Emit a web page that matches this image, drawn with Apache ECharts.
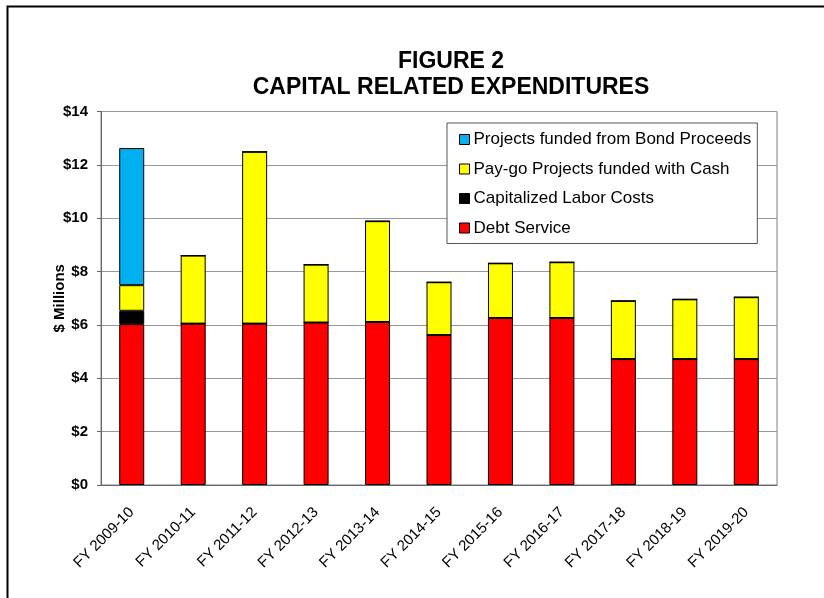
<!DOCTYPE html>
<html>
<head>
<meta charset="utf-8">
<script src="https://cdn.jsdelivr.net/npm/echarts@6/dist/echarts.min.js"></script>
<style>
html,body{margin:0;padding:0;background:#fff;}
#chart{width:824px;height:598px;}
</style>
</head>
<body>
<div id="chart"></div>
<script>
const categories = ['FY 2009-10','FY 2010-11','FY 2011-12','FY 2012-13','FY 2013-14','FY 2014-15','FY 2015-16','FY 2016-17','FY 2017-18','FY 2018-19','FY 2019-20'];
const debtService = [6.03, 6.05, 6.05, 6.09, 6.11, 5.62, 6.26, 6.26, 4.72, 4.72, 4.72];
const laborCosts = [0.50, 0, 0, 0, 0, 0, 0, 0, 0, 0, 0];
const payGo = [0.96, 2.55, 6.44, 2.17, 3.78, 1.98, 2.05, 2.09, 2.18, 2.24, 2.32];
const bondProceeds = [5.14, 0, 0, 0, 0, 0, 0, 0, 0, 0, 0];
const yTicks = [0, 2, 4, 6, 8, 10, 12, 14];

const FONT = 'Liberation Sans, Arial, sans-serif';
const chart = echarts.init(document.getElementById('chart'), null, {renderer: 'canvas'});

function barSeries(name, data, color) {
  return {
    name: name, type: 'bar', stack: 'total', data: data,
    barWidth: 25,
    itemStyle: {color: color, borderColor: '#000', borderWidth: 1},
    emphasis: {disabled: true}
  };
}

chart.setOption({
  animation: false,
  backgroundColor: '#fff',
  graphic: [{
    type: 'rect', left: 5, top: 4, shape: {width: 900, height: 700},
    style: {fill: 'none', stroke: '#000', lineWidth: 2}, silent: true
  }],
  title: {
    text: 'FIGURE 2\nCAPITAL RELATED EXPENDITURES',
    left: 446, top: 43, textAlign: 'center',
    textStyle: {fontFamily: FONT, fontWeight: 'bold', fontSize: 23, lineHeight: 26.5, color: '#000'}
  },
  legend: {
    orient: 'vertical', left: 447, top: 123,
    data: ['Projects funded from Bond Proceeds', 'Pay-go Projects funded with Cash', 'Capitalized Labor Costs', 'Debt Service'],
    icon: 'rect', itemWidth: 10, itemHeight: 10, itemGap: 12.5,
    padding: [8, 6, 7, 12],
    backgroundColor: '#fff', borderColor: '#555', borderWidth: 1,
    textStyle: {fontFamily: FONT, fontSize: 17, color: '#000', padding: [0, 0, 0, -1]},
    itemStyle: {borderColor: '#000', borderWidth: 1}
  },
  grid: {left: 101, right: 47, top: 111.5, bottom: 113, show: true, borderColor: '#808080', borderWidth: 1, backgroundColor: 'transparent'},
  xAxis: {
    type: 'category', data: categories,
    axisLine: {lineStyle: {color: '#666', width: 1}},
    axisTick: {show: false},
    axisLabel: {rotate: 45, fontFamily: FONT, fontSize: 15, color: '#000', margin: 25, interval: 0}
  },
  yAxis: {
    type: 'value', min: yTicks[0], max: yTicks[yTicks.length - 1], interval: 2,
    name: '$ Millions', nameLocation: 'middle', nameGap: 34, nameRotate: 90,
    nameMoveOverlap: false,
    nameTextStyle: {fontFamily: FONT, fontWeight: 'bold', fontSize: 15, color: '#000'},
    axisLine: {show: true, lineStyle: {color: '#666', width: 1}},
    axisTick: {show: true, length: 4, lineStyle: {color: '#666'}},
    axisLabel: {fontFamily: FONT, fontWeight: 'bold', fontSize: 15, color: '#000', margin: 13,
      formatter: v => '$' + v},
    splitLine: {lineStyle: {color: '#999', width: 1}}
  },
  series: [
    barSeries('Debt Service', debtService, '#FF0000'),
    barSeries('Capitalized Labor Costs', laborCosts, '#000000'),
    barSeries('Pay-go Projects funded with Cash', payGo, '#FFFF00'),
    barSeries('Projects funded from Bond Proceeds', bondProceeds, '#00B0F0')
  ]
});
</script>
</body>
</html>
